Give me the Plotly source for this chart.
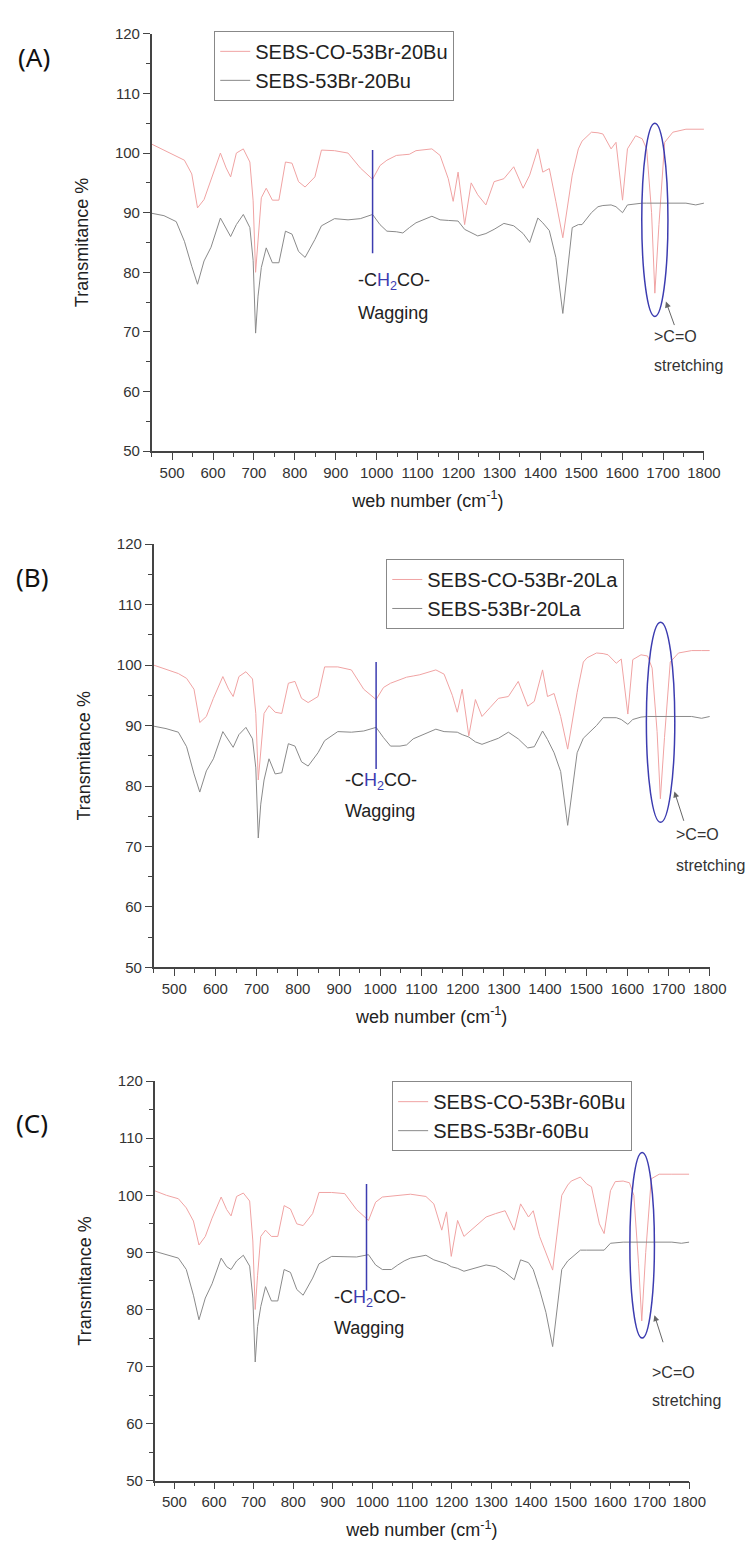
import plotly.graph_objects as go

# wavenumber grid shared by all six spectra (cm-1)
wavenumber = [450, 480, 510, 530, 548, 562, 578, 595, 618, 632, 643, 657, 674, 690, 698, 704, 710, 718,
              730, 745, 761, 777, 793, 809, 825, 849, 865, 897, 930, 960, 990, 1008, 1025, 1048, 1064,
              1080, 1096, 1135, 1155, 1175, 1187, 1199, 1215, 1231, 1247, 1267, 1287, 1311, 1335, 1358,
              1374, 1394, 1406, 1422, 1438, 1455, 1478, 1493, 1502, 1525, 1541, 1553, 1573, 1585, 1601,
              1613, 1633, 1649, 1660, 1672, 1680, 1690, 1704, 1724, 1756, 1780, 1800]

# (A) 20Bu
a_co = [101.5, 100.5, 99.6, 98.8, 96.5, 90.8, 92.2, 95.5, 100.0, 97.5, 96.0, 100.0, 100.7, 98.5, 92.0, 80.0, 86.0, 92.5,
        94.1, 92.1, 92.1, 98.5, 98.3, 95.2, 94.3, 96.0, 100.5, 100.4, 100.0, 97.5, 95.6, 97.9, 98.8, 99.6, 99.7,
        99.8, 100.4, 100.7, 99.6, 95.7, 91.9, 96.8, 88.0, 95.0, 93.0, 91.3, 95.2, 95.7, 97.7, 94.1,
        96.3, 100.7, 96.8, 97.4, 91.9, 85.8, 96.3, 100.7, 102.0, 103.5, 103.4, 103.2, 100.7, 101.8, 92.1,
        100.7, 102.9, 102.4, 100.7, 90.0, 76.5, 88.0, 101.8, 103.5, 104.0, 104.0, 104.0]
a_br = [89.9, 89.5, 88.5, 85.2, 81.0, 78.0, 81.9, 84.2, 89.1, 87.5, 86.0, 88.0, 89.7, 87.5, 82.0, 69.8, 76.0, 80.8,
        84.1, 81.6, 81.6, 86.9, 86.4, 83.5, 82.5, 85.5, 87.8, 89.0, 88.8, 89.0, 89.7, 88.0, 86.9, 86.8, 86.6,
        87.5, 88.3, 89.4, 88.8, 88.7, 88.6, 88.6, 87.2, 86.6, 86.1, 86.5, 87.2, 88.2, 87.8, 86.5,
        85.0, 89.1, 88.3, 87.0, 82.5, 73.1, 87.5, 88.0, 88.0, 90.0, 91.0, 91.2, 91.3, 91.0, 90.0,
        91.3, 91.5, 91.6, 91.6, 91.6, 91.6, 91.6, 91.6, 91.6, 91.6, 91.3, 91.6]

# (B) 20La
b_co = [100.0, 99.3, 98.6, 97.8, 96.0, 90.5, 91.5, 94.5, 98.1, 96.0, 94.8, 98.1, 98.9, 97.7, 92.0, 81.0, 86.0, 92.0,
        93.3, 92.2, 92.0, 97.0, 97.3, 94.5, 93.8, 94.8, 99.7, 99.7, 99.2, 96.0, 94.3, 96.3, 97.0, 97.6, 98.0,
        98.2, 98.4, 99.2, 98.5, 95.0, 92.2, 96.0, 88.3, 94.3, 91.5, 93.0, 94.5, 94.8, 97.3, 93.2,
        94.0, 99.2, 94.8, 95.3, 91.5, 86.1, 95.5, 100.5, 101.2, 102.0, 101.9, 101.7, 100.3, 101.0, 91.9,
        100.9, 101.7, 101.5, 99.5, 89.0, 77.9, 88.0, 100.5, 102.0, 102.4, 102.4, 102.4]
b_br = [89.9, 89.5, 88.9, 86.5, 82.0, 79.0, 82.5, 84.5, 89.0, 87.5, 86.4, 88.5, 89.7, 87.8, 83.0, 71.4, 77.0, 81.0,
        84.5, 82.0, 82.2, 87.0, 86.6, 84.0, 83.3, 85.5, 87.5, 89.0, 88.9, 89.1, 89.7, 88.0, 86.6, 86.6, 86.8,
        87.8, 88.3, 89.4, 89.0, 88.9, 88.9, 88.5, 88.1, 87.3, 86.9, 87.4, 87.9, 88.9, 87.8, 86.3,
        86.5, 89.1, 87.7, 85.5, 82.4, 73.5, 85.5, 87.9, 88.5, 90.0, 91.3, 91.3, 91.3, 91.0, 90.2,
        91.0, 91.4, 91.5, 91.5, 91.5, 91.5, 91.5, 91.5, 91.5, 91.5, 91.2, 91.5]

# (C) 60Bu
c_co = [100.8, 100.0, 99.4, 97.8, 95.5, 91.3, 92.8, 96.0, 99.7, 97.5, 96.4, 99.8, 100.4, 99.0, 92.0, 80.0, 86.0, 92.8,
        93.9, 92.8, 92.8, 98.2, 97.6, 95.0, 94.7, 96.8, 100.5, 100.5, 100.3, 97.5, 95.6, 98.8, 99.7, 99.9, 100.0,
        100.1, 100.2, 99.8, 98.5, 93.9, 97.1, 89.3, 95.6, 92.8, 93.8, 95.0, 96.2, 96.8, 97.3, 93.9,
        98.5, 96.2, 97.3, 92.8, 90.0, 86.9, 100.0, 101.8, 102.5, 103.2, 102.0, 101.5, 95.0, 93.3, 100.8,
        102.4, 102.5, 102.2, 100.0, 88.0, 78.0, 90.0, 102.9, 103.7, 103.7, 103.7, 103.7]
c_br = [90.2, 89.6, 89.0, 87.0, 82.5, 78.2, 82.0, 84.5, 89.0, 87.5, 87.0, 88.5, 89.5, 87.6, 82.0, 70.8, 77.0, 80.5,
        84.0, 81.5, 81.5, 87.0, 86.5, 83.5, 82.5, 85.5, 88.0, 89.3, 89.2, 89.2, 89.6, 87.8, 87.0, 87.0, 87.8,
        88.5, 89.0, 89.5, 88.7, 88.3, 88.0, 87.5, 87.2, 86.7, 87.0, 87.5, 87.8, 87.5, 86.5, 85.2,
        88.7, 88.2, 87.0, 83.5, 79.5, 73.5, 87.0, 88.5, 89.0, 90.4, 90.4, 90.4, 90.4, 90.4, 91.6,
        91.7, 91.8, 91.8, 91.8, 91.8, 91.8, 91.8, 91.8, 91.8, 91.8, 91.6, 91.8]

names_co = ['SEBS-CO-53Br-20Bu', 'SEBS-CO-53Br-20La', 'SEBS-CO-53Br-60Bu']
names_br = ['SEBS-53Br-20Bu', 'SEBS-53Br-20La', 'SEBS-53Br-60Bu']
panel_labels = ['(A)', '(B)', '(C)']
x_ticks = list(range(500, 1801, 100))
y_ticks = list(range(50, 121, 10))

W, H = 754, 1546
RED = '#f0a3a3'
GRAY = '#8a8a8a'
BLUE = '#3c3cb0'
FONT = 'Liberation Sans, Arial, sans-serif'

# pixel boxes of the three plot areas: (left, right, top, bottom)
boxes = [(147, 712, 17, 439), (149, 718, 533, 961), (150, 697, 1076, 1480)]
legend_pos = [(211, 14), (387, 548), (393, 1076)]
label_pos = [(8, 40), (6, 566), (6, 1118)]

fig = go.Figure()
series = [(a_co, a_br), (b_co, b_br), (c_co, c_br)]
for i, (co, br) in enumerate(series):
    xa = 'x' if i == 0 else 'x%d' % (i + 1)
    ya = 'y' if i == 0 else 'y%d' % (i + 1)
    lg = 'legend' if i == 0 else 'legend%d' % (i + 1)
    fig.add_trace(go.Scatter(x=wavenumber, y=co, mode='lines', name=names_co[i],
                             line=dict(color=RED, width=1), xaxis=xa, yaxis=ya, legend=lg))
    fig.add_trace(go.Scatter(x=wavenumber, y=br, mode='lines', name=names_br[i],
                             line=dict(color=GRAY, width=1), xaxis=xa, yaxis=ya, legend=lg))

axis_common = dict(showline=True, linecolor='#444', linewidth=1.5, mirror=False, showgrid=False,
                   zeroline=False, ticks='outside', ticklen=7, tickwidth=1.2, tickcolor='#444',
                   tickfont=dict(family=FONT, size=15, color='#333'))

layout = dict(width=W, height=H, margin=dict(l=0, r=0, t=0, b=0), paper_bgcolor='white',
              plot_bgcolor='white', font=dict(family=FONT, color='#222'))
for i, (l, r, t, b) in enumerate(boxes):
    sfx = '' if i == 0 else str(i + 1)
    layout['xaxis' + sfx] = dict(axis_common, domain=[l / W, r / W], range=[450, 1800],
                                 tickvals=x_ticks, anchor='y' + sfx,
                                 minor=dict(dtick=50, tick0=450, ticks='outside', ticklen=4, tickcolor='#444'),
                                 title=dict(text='web number (cm<sup>-1</sup>)', standoff=14,
                                            font=dict(family=FONT, size=18, color='#222')))
    layout['yaxis' + sfx] = dict(axis_common, domain=[1 - b / H, 1 - t / H], range=[50, 120],
                                 tickvals=y_ticks, anchor='x' + sfx,
                                 minor=dict(dtick=5, tick0=50, ticks='outside', ticklen=4, tickcolor='#444'),
                                 title=dict(text='Transmitance %', standoff=22,
                                            font=dict(family=FONT, size=18, color='#222')))
    lx, ly = legend_pos[i]
    layout['legend' + sfx] = dict(x=lx / W, y=1 - ly / H, xanchor='left', yanchor='top',
                                  bgcolor='white', bordercolor='#888', borderwidth=1,
                                  font=dict(family=FONT, size=20, color='#222'), tracegroupgap=0)
fig.update_layout(**layout)

# blue marker line, ellipse and labels for each panel
wag_x = [990, 990, 985]
wag_y = [(83.2, 100.5), (82.8, 100.5), (83.3, 102.0)]
wag_text = [(950, 78.5, 73.2), (910, 80.7, 75.8), (898, 82.0, 76.8)]
ell = [(1648, 1712, 72.6, 105.0), (1646, 1715, 74.0, 107.1), (1650, 1712, 75.0, 107.5)]
arrows = [(1707, 75.1, 1729, 70.9), (1714, 79.1, 1738, 74.0), (1712, 79.0, 1735, 74.0)]
co_text = [(1672, 69.3, 64.4), (1712, 72.0, 66.8), (1700, 69.0, 64.0)]

shapes = []
annotations = []
wag = "-C<span style='color:#3c3cb0'>H<sub>2</sub></span>CO-"
for i in range(3):
    sfx = '' if i == 0 else str(i + 1)
    xr, yr = 'x' + sfx, 'y' + sfx
    shapes.append(dict(type='line', xref=xr, yref=yr, x0=wag_x[i], x1=wag_x[i],
                       y0=wag_y[i][0], y1=wag_y[i][1], line=dict(color=BLUE, width=1.5)))
    x0, x1, y0, y1 = ell[i]
    shapes.append(dict(type='circle', xref=xr, yref=yr, x0=x0, x1=x1, y0=y0, y1=y1,
                       line=dict(color=BLUE, width=1.5)))
    tx, t1, t2 = wag_text[i]
    annotations.append(dict(x=tx, y=t1, xref=xr, yref=yr, text=wag, showarrow=False, xanchor='left',
                            font=dict(family=FONT, size=18, color='#222')))
    annotations.append(dict(x=tx, y=t2, xref=xr, yref=yr, text='Wagging', showarrow=False, xanchor='left',
                            font=dict(family=FONT, size=18, color='#222')))
    hx, hy, ax, ay = arrows[i]
    annotations.append(dict(x=hx, y=hy, ax=ax, ay=ay, xref=xr, yref=yr, axref=xr, ayref=yr, text='',
                            showarrow=True, arrowhead=2, arrowsize=1.2, arrowwidth=1, arrowcolor='#666'))
    cx, c1, c2 = co_text[i]
    annotations.append(dict(x=cx, y=c1, xref=xr, yref=yr, text='>C=O', showarrow=False, xanchor='left',
                            font=dict(family=FONT, size=16, color='#333')))
    annotations.append(dict(x=cx, y=c2, xref=xr, yref=yr, text='stretching', showarrow=False, xanchor='left',
                            font=dict(family=FONT, size=16, color='#333')))
    px, py = label_pos[i]
    annotations.append(dict(x=px / W, y=1 - py / H, xref='paper', yref='paper', text=panel_labels[i],
                            showarrow=False, xanchor='left', yanchor='middle',
                            font=dict(family='Noto Sans, sans-serif', size=26, color='#111')))

fig.update_layout(shapes=shapes, annotations=annotations)

fig.write_html("out.html")
